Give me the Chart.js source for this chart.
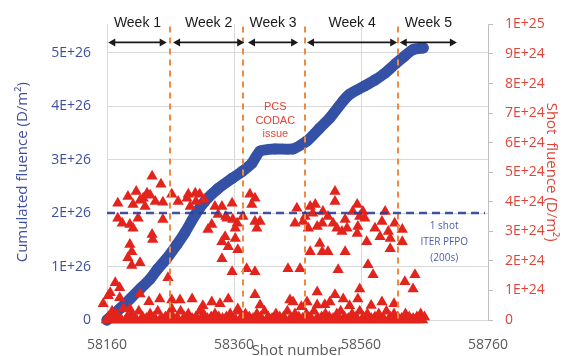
<!DOCTYPE html>
<html>
<head>
<meta charset="utf-8">
<script src="https://cdn.jsdelivr.net/npm/chart.js@4/dist/chart.umd.min.js"></script>
<style>
  html, body { margin: 0; padding: 0; background: #ffffff; }
  #wrap { width: 569px; height: 356px; }
</style>
</head>
<body>
<div id="wrap"><canvas id="c" width="569" height="356"></canvas></div>
<script>
// ---- Cumulated fluence (D/m^2) against shot number ----
const cumShots = [58160, 58180, 58196, 58212, 58228, 58240, 58254, 58270, 58283, 58299,
                  58314, 58335, 58357, 58373, 58388, 58401, 58425, 58453, 58475, 58495,
                  58511, 58532, 58543, 58566, 58582, 58598, 58614, 58629, 58642, 58658];
const cumFluence = [0, 0.21e26, 0.39e26, 0.58e26, 0.77e26, 0.96e26, 1.15e26, 1.41e26, 1.64e26, 1.97e26,
                    2.22e26, 2.46e26, 2.65e26, 2.78e26, 2.93e26, 3.16e26, 3.20e26, 3.20e26, 3.35e26, 3.59e26,
                    3.78e26, 4.10e26, 4.23e26, 4.38e26, 4.49e26, 4.62e26, 4.79e26, 4.94e26, 5.06e26, 5.09e26];

// ---- Per-shot fluence (D/m^2): shots with significant fluence ----
const shotNumbers = [
  58231, 58245, 58223, 58228, 58217, 58177, 58201, 58212, 58236, 58248,
  58262, 58272, 58286, 58177, 58184, 58196, 58201, 58209, 58248, 58231,
  58232, 58196, 58199, 58193, 58199, 58212, 58256, 58173, 58180, 58165,
  58180, 58162, 58243, 58262, 58275, 58212, 58262, 58196, 58154, 58226,
  58206, 58193, 58220, 58291, 58300, 58313, 58347, 58341,
  58288, 58299, 58306, 58330, 58335, 58325, 58319, 58357, 58385, 58388,
  58393, 58349, 58358, 58365, 58362, 58346, 58362, 58341, 58351, 58366,
  58341, 58374, 58393, 58396, 58401, 58357, 58380, 58393, 58294, 58325,
  58351, 58393, 58366, 58401, 58311, 58338,
  58519, 58519, 58459, 58480, 58488, 58500, 58547, 58554, 58456, 58469,
  58477, 58491, 58499, 58516, 58522, 58530, 58538, 58555, 58495, 58480,
  58499, 58508, 58535, 58445, 58464, 58524, 58491, 58519, 58448, 58453,
  58475, 58491, 58511, 58532, 58466, 58503, 58542,
  58472, 58484, 58508, 58535, 58558,
  58563, 58566, 58598, 58593, 58582, 58603, 58606, 58625, 58625, 58606,
  58569, 58554, 58571, 58579, 58629, 58642, 58645, 58558, 58555, 58593,
  58612, 58576, 58613, 58590
];
const shotFluenceE24 = [
  4.86, 4.59, 4.29, 4.22, 4.12, 3.95, 3.91, 4.05, 4.01, 3.98,
  4.25, 4.01, 4.12, 3.44, 3.27, 3.23, 3.10, 3.44, 3.40, 2.89,
  2.72, 2.55, 2.31, 2.11, 1.84, 1.94, 1.43, 1.26, 1.09, 0.92,
  0.75, 0.82, 0.71, 0.68, 0.68, 0.88, 0.37, 0.37, 0.55, 0.62,
  4.35, 4.18, 3.84, 3.84, 4.01, 4.08, 3.50, 3.84,
  4.25, 4.29, 4.25, 3.84, 3.57, 3.23, 3.06, 3.95, 4.25, 3.91,
  4.12, 3.44, 3.40, 3.27, 3.10, 2.82, 2.76, 2.65, 2.48, 2.38,
  2.07, 3.50, 3.33, 3.10, 3.33, 1.63, 1.73, 1.63, 0.71, 0.61,
  0.71, 0.85, 0.37, 0.51, 0.48, 0.55,
  4.35, 4.01, 3.78, 3.84, 3.91, 3.67, 3.67, 3.91, 3.27, 3.33,
  3.10, 3.16, 3.27, 3.27, 3.10, 2.99, 3.10, 3.16, 2.59, 2.31,
  2.31, 2.31, 2.31, 1.73, 1.73, 1.70, 0.95, 0.85, 0.68, 0.61,
  0.61, 0.51, 0.61, 0.71, 0.45, 0.52, 0.48,
  3.50, 3.61, 3.50, 3.40, 3.50,
  3.67, 3.44, 3.67, 3.33, 3.10, 2.99, 2.76, 3.06, 2.65, 2.41,
  2.65, 2.93, 1.87, 1.53, 1.29, 1.05, 1.53, 1.05, 0.71, 0.61,
  0.55, 0.49, 3.27, 2.82
];

// ---- Per-shot fluence: low-fluence shots along the baseline ----
const lowShots = [
  58162, 58168, 58174, 58180, 58186, 58192, 58198, 58204, 58210, 58216,
  58222, 58228, 58234, 58240, 58246, 58252, 58258, 58264, 58270, 58276,
  58282, 58288, 58294, 58300, 58306, 58312, 58318, 58324, 58330, 58336,
  58342, 58348, 58354, 58360, 58366, 58372, 58378, 58384, 58390, 58396,
  58402, 58408, 58414, 58420, 58426, 58432, 58438, 58444, 58450, 58456,
  58462, 58468, 58474, 58480, 58486, 58492, 58498, 58504, 58510, 58516,
  58522, 58528, 58534, 58540, 58546, 58552, 58558, 58564, 58570, 58576,
  58582, 58588, 58594, 58600, 58606, 58612, 58618, 58624, 58630, 58636,
  58642, 58648, 58654, 58660
];
const lowFluenceE24 = [
  0.1, 0.3, 0.2, 0.05, 0.4, 0.1, 0.2, 0.05, 0.3, 0.1,
  0.05, 0.2, 0.1, 0.3, 0.05, 0.1, 0.2, 0.1, 0.05, 0.3,
  0.1, 0.2, 0.05, 0.1, 0.3, 0.2, 0.05, 0.1, 0.2, 0.1,
  0.05, 0.1, 0.2, 0.05, 0.3, 0.1, 0.2, 0.1, 0.05, 0.2,
  0.1, 0.3, 0.1, 0.05, 0.2, 0.1, 0.1, 0.3, 0.05, 0.2,
  0.1, 0.05, 0.2, 0.1, 0.3, 0.05, 0.1, 0.2, 0.1, 0.05,
  0.2, 0.3, 0.1, 0.05, 0.2, 0.1, 0.3, 0.1, 0.2, 0.05,
  0.1, 0.2, 0.05, 0.3, 0.1, 0.2, 0.1, 0.05, 0.2, 0.1,
  0.05, 0.1, 0.2, 0.1
];
// shots that delivered no measurable fluence (value 0)
const zeroShots = [
  58159, 58165, 58171, 58177, 58183, 58189, 58195, 58201, 58207, 58213,
  58219, 58225, 58231, 58237, 58243, 58249, 58255, 58261, 58267, 58273,
  58279, 58285, 58291, 58297, 58303, 58309, 58315, 58321, 58327, 58333,
  58339, 58345, 58351, 58357, 58363, 58369, 58375, 58381, 58387, 58393,
  58399, 58405, 58411, 58417, 58423, 58429, 58435, 58441, 58447, 58453,
  58459, 58465, 58471, 58477, 58483, 58489, 58495, 58501, 58507, 58513,
  58519, 58525, 58531, 58537, 58543, 58549, 58555, 58561, 58567, 58573,
  58579, 58585, 58591, 58597, 58603, 58609, 58615, 58621, 58627, 58633,
  58639, 58645, 58651, 58657
];

// ---- Axes ----
const leftTickLabels = ['0', '1E+26', '2E+26', '3E+26', '4E+26', '5E+26'];
const rightTickLabels = ['0', '1E+24', '2E+24', '3E+24', '4E+24', '5E+24',
                         '6E+24', '7E+24', '8E+24', '9E+24', '1E+25'];
const xTickLabels = ['58160', '58360', '58560', '58760'];

// ---- Campaign weeks (shot numbers) ----
const weekLabels = ['Week 1', 'Week 2', 'Week 3', 'Week 4', 'Week 5'];
const weekStart = [58162, 58264, 58382, 58475, 58621];
const weekEnd = [58254, 58376, 58461, 58617, 58711];
const weekBoundaries = [58259, 58374, 58472, 58618];

// Reference: cumulated fluence of one ITER PFPO shot (200 s)
const iterShotFluence = 2.0e26;

// Notes
const codacNote = { shot: 58425, fluence: 3.98e26, lines: ['PCS', 'CODAC', 'issue'] };
const pfpoNote = { shot: 58691, fluence: 1.75e26, lines: ['1 shot', 'ITER PFPO', '(200s)'] };

const RED = '#e3241c';
const BLUE = '#3551a6';
const BLUE_TEXT = '#3f4f9f';
const RED_TEXT = '#df4538';
const ORANGE = '#ef8a43';
const GRID = '#d9d9d9';
const TICK_FONT = { family: 'Open Sans', size: 14 };

const redPoints = shotNumbers.map((s, i) => ({ x: s, y: shotFluenceE24[i] * 1e24 }))
  .concat(lowShots.map((s, i) => ({ x: s, y: lowFluenceE24[i] * 1e24 })))
  .concat(zeroShots.map(s => ({ x: s, y: 0 })));
const cumPoints = cumShots.map((s, i) => ({ x: s, y: cumFluence[i] }));

function arrowHead(ctx, x, y, dir) {
  ctx.beginPath();
  ctx.moveTo(x, y);
  ctx.lineTo(x - dir * 7, y - 4);
  ctx.lineTo(x - dir * 7, y + 4);
  ctx.closePath();
  ctx.fill();
}

const annotations = {
  id: 'annotations',
  afterDatasetsDraw(chart) {
    const { ctx, chartArea } = chart;
    const xs = chart.scales.x;
    const yc = chart.scales.yCum;
    ctx.save();

    // week boundaries
    ctx.strokeStyle = ORANGE;
    ctx.lineWidth = 2;
    ctx.setLineDash([6, 5]);
    weekBoundaries.forEach(s => {
      const px = Math.round(xs.getPixelForValue(s));
      ctx.beginPath();
      ctx.moveTo(px, chartArea.top + 2);
      ctx.lineTo(px, chartArea.bottom);
      ctx.stroke();
    });

    // one ITER shot reference line
    ctx.strokeStyle = 'rgba(46, 62, 150, 0.9)';
    ctx.lineWidth = 2.5;
    ctx.setLineDash([8, 5]);
    const py = yc.getPixelForValue(iterShotFluence);
    ctx.beginPath();
    ctx.moveTo(chartArea.left, py);
    ctx.lineTo(chartArea.right - 3, py);
    ctx.stroke();
    ctx.setLineDash([]);

    // week arrows and labels
    const ay = chartArea.top + 18;
    ctx.strokeStyle = '#1a1a1a';
    ctx.fillStyle = '#1a1a1a';
    ctx.lineWidth = 1.6;
    ctx.font = '14px "Liberation Sans", Arial, sans-serif';
    ctx.textAlign = 'center';
    ctx.textBaseline = 'middle';
    weekLabels.forEach((lbl, i) => {
      const x0 = xs.getPixelForValue(weekStart[i]);
      const x1 = xs.getPixelForValue(weekEnd[i]);
      ctx.beginPath();
      ctx.moveTo(x0 + 3, ay);
      ctx.lineTo(x1 - 3, ay);
      ctx.stroke();
      arrowHead(ctx, x0, ay, -1);
      arrowHead(ctx, x1, ay, 1);
      ctx.fillText(lbl, (x0 + x1) / 2, chartArea.top - 1);
    });

    // text notes
    ctx.fillStyle = RED_TEXT;
    ctx.font = '11px "Liberation Sans", Arial, sans-serif';
    const cx = xs.getPixelForValue(codacNote.shot);
    const cy = yc.getPixelForValue(codacNote.fluence);
    codacNote.lines.forEach((t, i) => ctx.fillText(t, cx, cy + i * 13.5));

    ctx.fillStyle = '#4a5cab';
    ctx.font = '10px "Open Sans", sans-serif';
    const nx = xs.getPixelForValue(pfpoNote.shot);
    const ny = yc.getPixelForValue(pfpoNote.fluence);
    pfpoNote.lines.forEach((t, i) => ctx.fillText(t, nx, ny + i * 16));

    ctx.restore();
  }
};

new Chart(document.getElementById('c'), {
  type: 'scatter',
  data: {
    datasets: [
      {
        label: 'Shot fluence',
        data: redPoints,
        yAxisID: 'yShot',
        pointStyle: 'triangle',
        pointRadius: 6.5,
        backgroundColor: RED,
        borderColor: RED,
        borderWidth: 0,
        order: 1,
        clip: false
      },
      {
        label: 'Cumulated fluence',
        data: cumPoints,
        yAxisID: 'yCum',
        showLine: true,
        borderColor: BLUE,
        borderWidth: 11,
        borderCapStyle: 'round',
        borderJoinStyle: 'round',
        pointRadius: 5.5,
        pointBackgroundColor: BLUE,
        pointBorderWidth: 0,
        tension: 0.2,
        order: 2,
        clip: false
      }
    ]
  },
  options: {
    responsive: false,
    animation: false,
    layout: { padding: { top: 24, left: 0, right: 0, bottom: 0 } },
    plugins: { legend: { display: false }, tooltip: { enabled: false } },
    scales: {
      x: {
        type: 'linear',
        min: 58160,
        max: 58760,
        ticks: {
          stepSize: 200,
          font: TICK_FONT,
          color: '#595959',
          padding: 17,
          callback: (v, i) => xTickLabels[i]
        },
        grid: { color: GRID, drawTicks: false },
        border: { display: false },
        title: {
          display: true,
          text: 'Shot number',
          color: '#595959',
          font: { family: 'Open Sans', size: 15, lineHeight: 1 },
          padding: { top: 0, bottom: -2 }
        },
        afterFit: s => { s.height = 36; }
      },
      yCum: {
        type: 'linear',
        position: 'left',
        min: 0,
        max: 5.53e26,
        ticks: {
          font: TICK_FONT,
          color: BLUE_TEXT,
          padding: 16,
          callback: (v, i) => leftTickLabels[i]
        },
        afterBuildTicks: s => { s.ticks = leftTickLabels.map((_, i) => ({ value: i * 1e26 })); },
        grid: { color: GRID, drawTicks: false },
        border: { display: true, color: GRID },
        title: {
          display: true,
          text: 'Cumulated fluence (D/m²)',
          color: BLUE_TEXT,
          font: { family: 'Open Sans', size: 15, lineHeight: 1 },
          padding: { top: 15, bottom: 0 }
        },
        afterFit: s => { s.width = 107; }
      },
      yShot: {
        type: 'linear',
        position: 'right',
        min: 0,
        max: 1e25,
        ticks: {
          stepSize: 1e24,
          font: TICK_FONT,
          color: RED_TEXT,
          padding: 12,
          callback: (v, i) => rightTickLabels[i]
        },
        grid: { drawOnChartArea: false, drawTicks: true, tickLength: 5, color: '#bfbfbf' },
        border: { display: true, color: '#bfbfbf' },
        title: {
          display: true,
          text: 'Shot  fluence (D/m²)',
          color: RED_TEXT,
          font: { family: 'Open Sans', size: 15, lineHeight: 1 },
          padding: { top: 10, bottom: 0 }
        },
        afterFit: s => { s.width = 81; }
      }
    }
  },
  plugins: [annotations]
});
</script>
</body>
</html>
